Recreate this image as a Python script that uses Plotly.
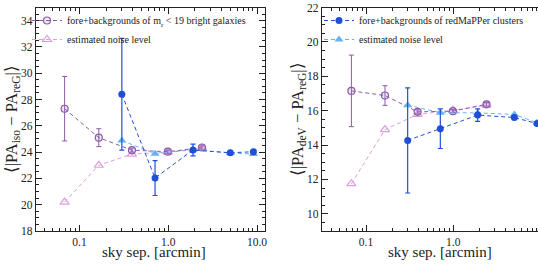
import plotly.graph_objects as go

# ---------------- data ----------------
# bright-galaxy sample (purple) bins
x_gal = [0.068, 0.165, 0.39, 0.99, 2.4]
# left panel: <|PA_iso - PA_reG|>
iso_gal = [27.3, 25.1, 24.15, 24.03, 24.35]
iso_gal_err = [2.45, 0.68, 0.15, 0.12, 0.12]
iso_gal_noise = [20.2, 23.0, 23.85, 24.0, 24.3]
# right panel: <|PA_deV - PA_reG|>
dev_gal = [17.15, 16.88, 15.93, 15.97, 16.37]
dev_gal_err = [2.08, 0.57, 0.12, 0.1, 0.1]
dev_gal_noise = [11.75, 14.9, 15.78, 16.02, 16.32]

# redMaPPer cluster sample (blue) bins
x_clu = [0.30, 0.71, 1.9, 5.0, 9.1]
iso_clu = [28.4, 22.03, 24.16, 23.95, 24.03]
iso_clu_err = [4.25, 1.33, 0.45, 0.1, 0.1]
iso_clu_noise = [24.88, 23.88, 24.18, 23.93, 23.86]
dev_clu = [14.27, 14.95, 15.74, 15.6, 15.25]
dev_clu_err = [3.06, 1.15, 0.36, 0.08, 0.08]
dev_clu_noise = [16.32, 15.88, 15.87, 15.78, 15.3]

xticks = [0.1, 1.0, 10.0]
xticklabels = ["0.1", "1.0", "10.0"]
yticks_left = [18, 20, 22, 24, 26, 28, 30, 32, 34]
yticks_right = [10, 12, 14, 16, 18, 20, 22]

lab_gal = "fore+backgrounds of m<sub>r</sub> < 19 bright galaxies"
lab_clu = "fore+backgrounds of redMaPPer clusters"
lab_noise = "estimated noise level"
xtitle = "sky sep. [arcmin]"
ytitle_left = "⟨|PA<sub>iso</sub> − PA<sub>reG</sub>|⟩"
ytitle_right = "⟨|PA<sub>deV</sub> − PA<sub>reG</sub>|⟩"

# ---------------- style ----------------
FONT = "Liberation Serif, serif"
PURPLE = "#8a5aa6"
PINK = "#dc9ee0"
BLUE = "#1f4fd6"
LBLUE = "#66b2fa"
DASH = "4px,3px"

fig = go.Figure()


def add_panel(xa, ya, gal, gal_err, gal_noise, clu, clu_err, clu_noise, leg, which):
    show_gal = which == "gal"
    fig.add_trace(go.Scatter(
        x=x_gal, y=gal_noise, xaxis=xa, yaxis=ya, mode="lines+markers",
        name=lab_noise, legend=leg, showlegend=show_gal, legendrank=2,
        line=dict(color=PINK, width=1, dash=DASH),
        marker=dict(symbol="triangle-up-open", size=8, color=PINK, line=dict(width=1.2))))
    fig.add_trace(go.Scatter(
        x=x_gal, y=gal, xaxis=xa, yaxis=ya, mode="lines+markers",
        name=lab_gal, legend=leg, showlegend=show_gal, legendrank=1,
        error_y=dict(type="data", array=gal_err, color=PURPLE, thickness=1, width=2.5),
        line=dict(color=PURPLE, width=1, dash=DASH),
        marker=dict(symbol="circle", size=7, color="rgba(170,120,200,0.18)",
                    line=dict(color=PURPLE, width=1.2))))
    fig.add_trace(go.Scatter(
        x=x_clu, y=clu_noise, xaxis=xa, yaxis=ya, mode="lines+markers",
        name=lab_noise, legend=leg, showlegend=not show_gal, legendrank=2,
        line=dict(color=LBLUE, width=1, dash=DASH),
        marker=dict(symbol="triangle-up", size=8, color=LBLUE)))
    fig.add_trace(go.Scatter(
        x=x_clu, y=clu, xaxis=xa, yaxis=ya, mode="lines+markers",
        name=lab_clu, legend=leg, showlegend=not show_gal, legendrank=1,
        error_y=dict(type="data", array=clu_err, color=BLUE, thickness=1.2, width=2.5),
        line=dict(color=BLUE, width=1, dash=DASH),
        marker=dict(symbol="circle", size=7, color=BLUE)))


add_panel("x", "y", iso_gal, iso_gal_err, iso_gal_noise,
          iso_clu, iso_clu_err, iso_clu_noise, "legend", "gal")
add_panel("x2", "y2", dev_gal, dev_gal_err, dev_gal_noise,
          dev_clu, dev_clu_err, dev_clu_noise, "legend2", "clu")

W, H = 538, 266
tickfont = dict(family=FONT, size=11.5, color="#222")


def xaxis(domain, rng, mirror):
    return dict(
        type="log", domain=domain, range=rng,
        tickvals=xticks, ticktext=xticklabels, ticks="inside", ticklen=6,
        tickwidth=1, tickcolor="#222", showline=True, linecolor="#222", linewidth=1.2,
        mirror=mirror, showgrid=False, zeroline=False, tickfont=tickfont,
        minor=dict(ticks="inside", ticklen=3, tickcolor="#222", showgrid=False,
                   dtick="D1"),
        automargin=False)


def yaxis(domain, rng, vals, mirror):
    return dict(
        domain=domain, range=rng, tickvals=vals, ticks="inside", ticklen=6,
        tickwidth=1, tickcolor="#222", showline=True, linecolor="#222", linewidth=1.2,
        mirror=mirror, showgrid=False, zeroline=False, tickfont=tickfont,
        minor=dict(ticks="inside", ticklen=3, tickcolor="#222", showgrid=False,
                   dtick=0.5),
        automargin=False)


ydom = [35 / H, 1 - 7.5 / H]
ymid = (ydom[0] + ydom[1]) / 2
ytitlefont = dict(family=FONT, size=16.5, color="#222")
xtitlefont = dict(family=FONT, size=15, color="#222")
fig.update_layout(
    width=W, height=H, margin=dict(l=0, r=0, t=0, b=0),
    paper_bgcolor="white", plot_bgcolor="white",
    font=dict(family=FONT, color="#222"),
    xaxis=dict(xaxis([36 / W, 265 / W], [-1.49, 1.09], "allticks"), anchor="y"),
    yaxis=dict(yaxis(ydom, [18, 35], yticks_left, "allticks"), anchor="x"),
    xaxis2=dict(xaxis([322 / W, 1.0], [-1.504, 0.97], "allticks"), anchor="y2"),
    yaxis2=dict(yaxis(ydom, [9, 22], yticks_right, False), anchor="x2"),
    legend=dict(x=27 / W, y=1 - 6 / H, xanchor="left", yanchor="top",
                bgcolor="rgba(0,0,0,0)", font=dict(family=FONT, size=10),
                tracegroupgap=0, itemwidth=30),
    legend2=dict(x=319 / W, y=1 - 6 / H, xanchor="left", yanchor="top",
                 bgcolor="rgba(0,0,0,0)", font=dict(family=FONT, size=10),
                 tracegroupgap=0, itemwidth=30),
    showlegend=True,
    annotations=[
        dict(text=ytitle_left, x=12 / W, y=ymid, xref="paper", yref="paper",
             xanchor="center", yanchor="middle", textangle=-90, showarrow=False,
             font=ytitlefont),
        dict(text=ytitle_right, x=298 / W, y=ymid, xref="paper", yref="paper",
             xanchor="center", yanchor="middle", textangle=-90, showarrow=False,
             font=ytitlefont),
        dict(text=xtitle, x=154 / W, y=1 - 242 / H, xref="paper", yref="paper",
             xanchor="center", yanchor="top", showarrow=False, font=xtitlefont),
        dict(text=xtitle, x=440 / W, y=1 - 242 / H, xref="paper", yref="paper",
             xanchor="center", yanchor="top", showarrow=False, font=xtitlefont),
    ],
)

fig.write_html("out.html",
               config={"displayModeBar": False},
               post_script="document.body.style.margin='0px';"
                           "document.body.style.overflow='hidden';")
